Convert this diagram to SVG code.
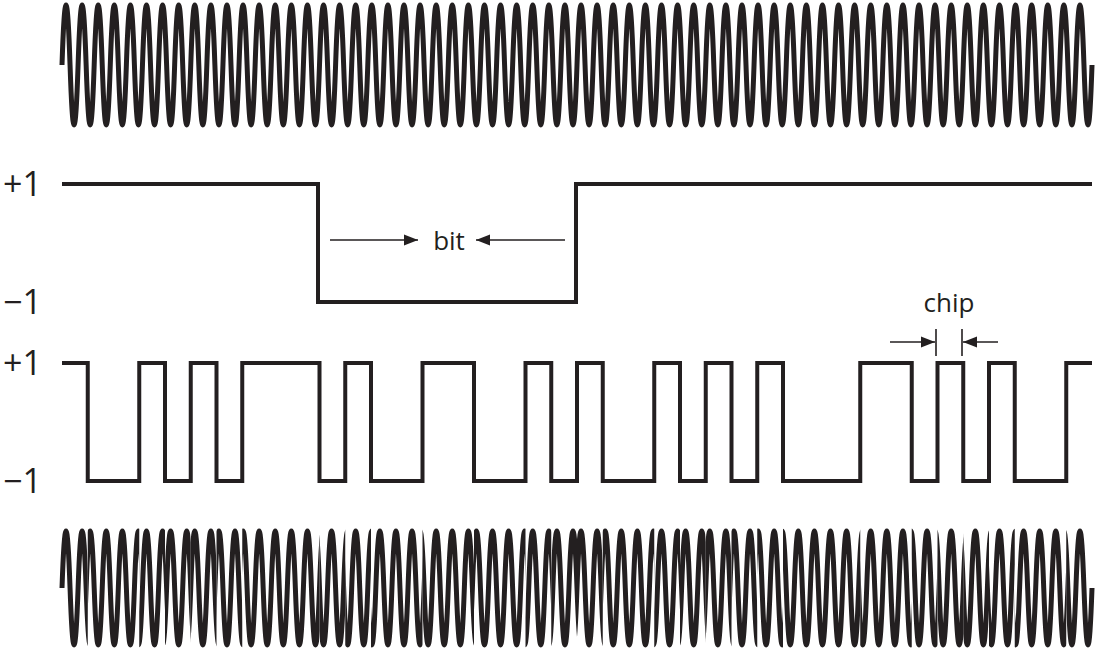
<svg xmlns="http://www.w3.org/2000/svg" xmlns:xlink="http://www.w3.org/1999/xlink" width="1104" height="657" viewBox="0 0 1104 657">
<style>
.w{fill:none;stroke:#231f20;stroke-width:5;stroke-linejoin:round}
.sq{fill:none;stroke:#231f20;stroke-width:4;stroke-linejoin:miter}
.ar{fill:none;stroke:#231f20;stroke-width:1.6}
.lb{font-family:"Open Sans","Liberation Sans",sans-serif;fill:#231f20}
</style>
<defs>
<marker id="ah2" viewBox="0 0 10 10" refX="10" refY="5" markerWidth="14" markerHeight="14" markerUnits="userSpaceOnUse" orient="auto"><path d="M0,1 L10,5 L0,9 Z" fill="#231f20"/></marker>
<path id="wave" d="M62,0 q4.023,-120 8.047,0
t8.047,0 8.047,0 8.047,0 8.047,0 8.047,0 8.047,0 8.047,0 8.047,0 8.047,0 8.047,0
8.047,0 8.047,0 8.047,0 8.047,0 8.047,0 8.047,0 8.047,0 8.047,0 8.047,0 8.047,0
8.047,0 8.047,0 8.047,0 8.047,0 8.047,0 8.047,0 8.047,0 8.047,0 8.047,0 8.047,0
8.047,0 8.047,0 8.047,0 8.047,0 8.047,0 8.047,0 8.047,0 8.047,0 8.047,0 8.047,0
8.047,0 8.047,0 8.047,0 8.047,0 8.047,0 8.047,0 8.047,0 8.047,0 8.047,0 8.047,0
8.047,0 8.047,0 8.047,0 8.047,0 8.047,0 8.047,0 8.047,0 8.047,0 8.047,0 8.047,0
8.047,0 8.047,0 8.047,0 8.047,0 8.047,0 8.047,0 8.047,0 8.047,0 8.047,0 8.047,0
8.047,0 8.047,0 8.047,0 8.047,0 8.047,0 8.047,0 8.047,0 8.047,0 8.047,0 8.047,0
8.047,0 8.047,0 8.047,0 8.047,0 8.047,0 8.047,0 8.047,0 8.047,0 8.047,0 8.047,0
8.047,0 8.047,0 8.047,0 8.047,0 8.047,0 8.047,0 8.047,0 8.047,0 8.047,0 8.047,0
8.047,0 8.047,0 8.047,0 8.047,0 8.047,0 8.047,0 8.047,0 8.047,0 8.047,0 8.047,0
8.047,0 8.047,0 8.047,0 8.047,0 8.047,0 8.047,0 8.047,0 8.047,0 8.047,0 8.047,0
8.047,0 8.047,0 8.047,0 8.047,0 8.047,0 8.047,0 8.047,0"/>
<clipPath id="hi">
<rect x="50" y="0" width="37.75" height="657"/><rect x="139.25" y="0" width="25.75" height="657"/><rect x="190.75" y="0" width="25.75" height="657"/><rect x="242.25" y="0" width="77.25" height="657"/><rect x="345.25" y="0" width="25.75" height="657"/><rect x="422.5" y="0" width="51.5" height="657"/><rect x="525.5" y="0" width="25.75" height="657"/><rect x="577" y="0" width="25.75" height="657"/><rect x="654.25" y="0" width="25.75" height="657"/><rect x="705.75" y="0" width="25.75" height="657"/><rect x="757.25" y="0" width="25.75" height="657"/><rect x="860.25" y="0" width="51.5" height="657"/><rect x="937.5" y="0" width="25.75" height="657"/><rect x="989" y="0" width="25.75" height="657"/><rect x="1066.25" y="0" width="37.75" height="657"/>
</clipPath>
<clipPath id="lo">
<rect x="87.75" y="0" width="51.5" height="657"/><rect x="165" y="0" width="25.75" height="657"/><rect x="216.5" y="0" width="25.75" height="657"/><rect x="319.5" y="0" width="25.75" height="657"/><rect x="371" y="0" width="51.5" height="657"/><rect x="474" y="0" width="51.5" height="657"/><rect x="551.25" y="0" width="25.75" height="657"/><rect x="602.75" y="0" width="51.5" height="657"/><rect x="680" y="0" width="25.75" height="657"/><rect x="731.5" y="0" width="25.75" height="657"/><rect x="783" y="0" width="77.25" height="657"/><rect x="911.75" y="0" width="25.75" height="657"/><rect x="963.25" y="0" width="25.75" height="657"/><rect x="1014.75" y="0" width="51.5" height="657"/>
</clipPath>
</defs>
<g id="carrier"><use xlink:href="#wave" class="w" transform="translate(0,65)"/></g>
<g id="data">
<path class="sq" d="M62,184 H318 V302 H576 V184 H1092"/>
</g>
<g id="chips">
<path class="sq" d="M62,363 H87.75 V481 H139.25 V363 H165 V481 H190.75 V363 H216.5 V481 H242.25 V363 H319.5 V481 H345.25 V363 H371 V481 H422.5 V363 H474 V481 H525.5 V363 H551.25 V481 H577 V363 H602.75 V481 H654.25 V363 H680 V481 H705.75 V363 H731.5 V481 H757.25 V363 H783 V481 H860.25 V363 H911.75 V481 H937.5 V363 H963.25 V481 H989 V363 H1014.75 V481 H1066.25 V363 H1092"/>
</g>
<g id="modulated">
<g clip-path="url(#hi)"><use xlink:href="#wave" class="w" transform="translate(0,588) scale(1,0.95)"/></g>
<g clip-path="url(#lo)"><use xlink:href="#wave" class="w" transform="translate(0,588) scale(1,-0.95)"/></g>
</g>
<g id="connectors">
<line class="ar" x1="330" y1="240" x2="418" y2="240" marker-end="url(#ah2)"/>
<line class="ar" x1="565" y1="240" x2="476" y2="240" marker-end="url(#ah2)"/>
<line class="ar" x1="890" y1="342" x2="935" y2="342" marker-end="url(#ah2)"/>
<line class="ar" x1="998" y1="342" x2="963" y2="342" marker-end="url(#ah2)"/>
<line class="ar" x1="936" y1="329" x2="936" y2="356"/>
<line class="ar" x1="962" y1="329" x2="962" y2="356"/>
</g>
<g id="labels" class="lb" font-size="34">
<text x="3" y="196">+1</text>
<text x="3" y="314">−1</text>
<text x="3" y="375">+1</text>
<text x="3" y="493">−1</text>
<text x="449" y="250" font-size="26" text-anchor="middle">bit</text>
<text x="949" y="312" font-size="26" text-anchor="middle">chip</text>
</g>
</svg>
